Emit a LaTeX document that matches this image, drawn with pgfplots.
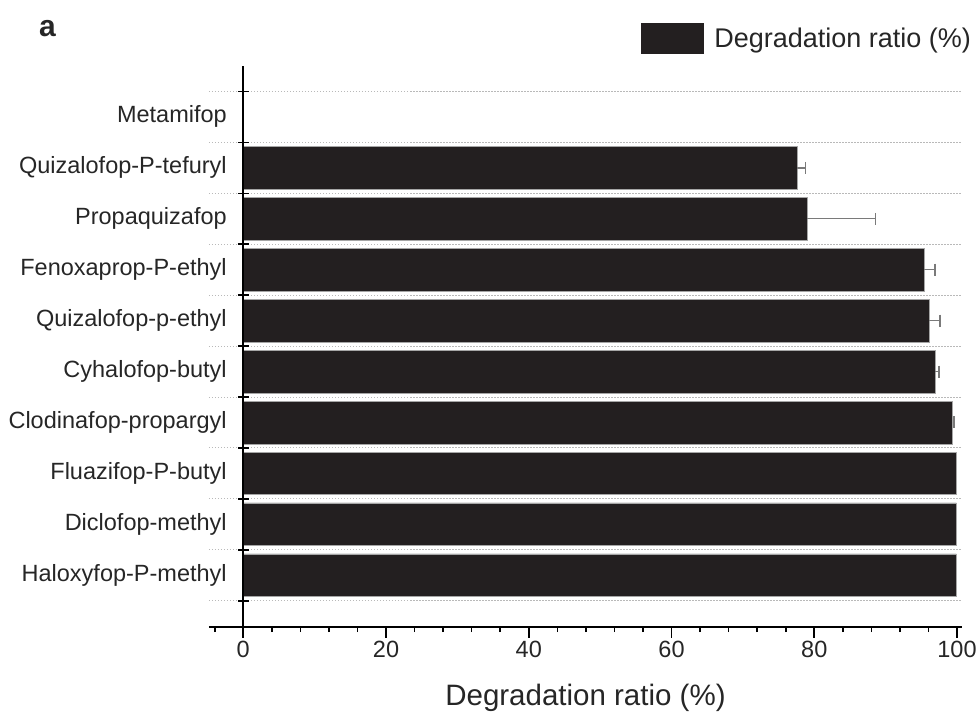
\documentclass[border=0pt]{standalone}
\usepackage{fontspec}
\setmainfont{Liberation Sans}
\usepackage{pgfplots}
\pgfplotsset{compat=1.18}
\definecolor{barcol}{HTML}{231F20}
\definecolor{errcol}{HTML}{7A7A7A}
\begin{document}
\begin{tikzpicture}
\begin{axis}[
  at={(0pt,0pt)}, anchor=south west,
  scale only axis, width=753pt, height=560.7pt,
  xmin=-4.8, xmax=100.7, ymin=-1.01, ymax=10.0,
  axis x line=bottom, axis y line=middle,
  axis line style={-, line width=1.8pt, black},
  axis on top,
  hide obscured x ticks=false, hide obscured y ticks=false,
  xtick={0,20,...,100},
  minor xtick={-4,4,8,12,16,24,28,32,36,44,48,52,56,64,68,72,76,84,88,92,96},
  xtick align=outside,
  major tick length=11pt, minor tick length=5.5pt,
  tick style={line width=1.6pt, black},
  ytick={-0.5,0.5,1.5,2.5,3.5,4.5,5.5,6.5,7.5,8.5,9.5},
  yticklabels={{},{},{},{},{},{},{},{},{},{},{}},
  ytick align=center,
  ymajorgrids,
  major grid style={gray!55, line width=0.9pt, dash pattern=on 1.5pt off 1.5pt},
  extra y ticks={0,1,2,3,4,5,6,7,8,9},
  extra y tick labels={Haloxyfop-P-methyl,Diclofop-methyl,Fluazifop-P-butyl,Clodinafop-propargyl,Cyhalofop-butyl,Quizalofop-p-ethyl,Fenoxaprop-P-ethyl,Propaquizafop,Quizalofop-P-tefuryl,Metamifop},
  extra y tick style={grid=none, major tick length=0pt, yticklabel style={anchor=east, xshift=-13pt}},
  /pgf/number format/assume math mode=true,
  tick label style={font=\fontsize{23.5}{23.5}\selectfont, black!85},
  xlabel={Degradation ratio (\%)},
  xlabel style={font=\fontsize{29.5}{30}\selectfont, black!85, at={(axis description cs:0.5,0)}, anchor=base, yshift=-79pt},
  legend style={draw=none, fill=none, inner sep=0pt, outer sep=0pt,
    at={(axis description cs:1,1)}, anchor=east, xshift=11pt, yshift=28pt,
    font=\fontsize{27}{27}\selectfont, text=black!85},
  legend image code/.code={\fill[barcol] (0pt,-15pt) rectangle (62pt,15pt); \path (71pt,0pt);},
]
\addplot[xbar, bar width=0.84, fill=barcol, draw=gray!70, line width=0.6pt] coordinates {
(99.9,0) (99.9,1) (99.9,2) (99.4,3) (96.9,4) (96.1,5) (95.4,6) (79.0,7) (77.6,8) (0,9)
};
\addlegendentry{Degradation ratio (\%)}
\addplot[forget plot, draw=none, mark=none,
  error bars/.cd, x dir=plus, x explicit, error mark=|,
  error bar style={draw=errcol, line width=1.4pt},
  error mark options={draw=errcol, line width=1.4pt, mark size=6pt}] coordinates {
(99.4,3) +- (0.2,0)
(96.9,4) +- (0.6,0)
(96.1,5) +- (1.5,0)
(95.4,6) +- (1.5,0)
(79.0,7) +- (9.6,0)
(77.6,8) +- (1.2,0)
};
\end{axis}
\node[anchor=base west, font=\fontsize{30}{30}\selectfont\bfseries, black!85, inner sep=0pt] at (-170pt,590.5pt) {a};
\pgfresetboundingbox
\path[use as bounding box] (-209pt,-85.3pt) rectangle (768pt,626.7pt);
\end{tikzpicture}
\end{document}
